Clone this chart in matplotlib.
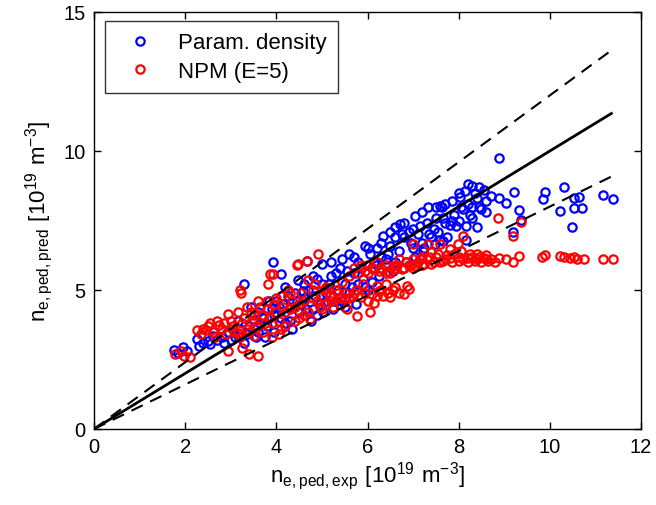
import numpy as np
import matplotlib
matplotlib.use('Agg')
import matplotlib.pyplot as plt

plt.rcParams['font.family'] = ['Liberation Sans', 'DejaVu Sans']
plt.rcParams['mathtext.fontset'] = 'custom'
plt.rcParams['mathtext.rm'] = 'Liberation Sans'

# Param. density (blue)
param_x = [1.76, 1.95, 1.85, 2.05, 2.25, 2.4, 2.55, 2.7, 2.85, 2.6, 2.95, 3.1, 3.2, 3.35,
           3.3, 3.5, 3.6, 3.7, 3.8, 3.9, 3.92, 4.1, 3.95, 4.0, 4.1, 4.2, 4.3, 4.4, 4.47,
           4.5, 4.6, 4.67, 4.7, 4.8, 4.9, 5.0, 5.03, 5.1, 5.2, 5.3, 5.4, 5.5, 5.6, 5.6,
           5.7, 5.8, 5.9, 5.95, 6.0, 6.05, 6.1, 6.2, 6.25, 6.35, 6.4, 6.5, 6.55, 6.6,
           6.7, 6.71, 6.8, 6.85, 6.9, 7.0, 7.04, 7.1, 7.2, 7.3, 7.33, 7.4, 7.5, 7.55,
           7.59, 7.63, 7.7, 7.8, 7.85, 7.9, 8.0, 8.03, 8.1, 8.14, 8.2, 8.29, 8.3, 8.4,
           8.4, 8.5, 8.6, 8.72, 8.89, 8.89, 9.03, 9.2, 9.21, 9.32, 9.36, 9.84, 9.9,
           10.22, 10.31, 10.48, 10.52, 10.54, 10.63, 10.71, 11.17, 11.39,
           3.4, 3.6, 3.75, 4.05, 4.25, 4.35, 4.55, 4.75, 4.85, 4.95, 5.15, 5.25, 5.35,
           5.45, 5.55, 5.65, 5.75, 5.85, 6.15, 6.3, 6.45, 6.6, 6.75, 6.95, 7.15, 7.25,
           7.45, 7.65, 7.75, 7.95, 8.05, 8.25, 8.35, 8.45, 8.55, 8.15, 7.6, 7.05, 6.2,
           5.95, 4.59, 2.3, 2.5, 2.8, 7.22, 7.48, 7.66,
           3.0, 3.15, 3.3, 3.45, 3.55, 3.65, 3.85, 3.95, 4.15, 4.2, 4.3, 4.45, 4.6,
           4.65, 4.8, 4.9, 5.0, 5.1, 5.2, 5.3, 5.45, 5.5, 5.7, 5.8, 6.0, 6.1, 6.3,
           6.5, 6.6, 6.8, 7.0, 7.2, 7.35, 7.5, 7.7, 7.85, 8.0, 8.2, 8.3, 8.45, 8.6, 8.15]
param_y = [2.85, 2.94, 2.75, 2.8, 3.24, 3.1, 3.05, 3.2, 3.1, 3.35, 3.5, 3.3, 3.6, 3.4,
           5.2, 3.9, 3.5, 4.0, 3.7, 4.3, 6.02, 5.58, 3.5, 4.6, 4.0, 3.8, 4.4, 4.9, 5.35,
           4.2, 4.7, 6.05, 5.0, 4.3, 5.4, 5.94, 4.2, 4.9, 5.5, 4.6, 5.8, 5.2, 6.29, 4.9,
           5.6, 6.0, 5.4, 6.6, 5.0, 6.3, 5.8, 6.5, 5.5, 6.95, 6.1, 6.6, 5.7, 7.25,
           6.4, 7.37, 6.9, 6.0, 7.1, 6.5, 7.67, 7.0, 6.7, 7.4, 7.97, 6.9, 7.6, 7.1,
           8.03, 7.97, 7.4, 7.34, 8.2, 7.7, 7.5, 8.33, 7.9, 8.57, 8.1, 8.75, 7.6, 7.25,
           8.3, 7.9, 8.2, 8.39, 8.31, 9.74, 8.12, 7.07, 8.54, 7.88, 7.52, 8.27, 8.51,
           7.85, 8.69, 7.25, 7.95, 8.31, 8.36, 7.95, 8.42, 8.27,
           3.7, 4.2, 3.3, 4.4, 4.8, 3.6, 4.5, 3.9, 4.8, 4.5, 5.2, 4.3, 5.0,
           4.6, 5.7, 5.1, 4.5, 5.8, 6.0, 6.7, 6.3, 6.9, 7.0, 6.7, 7.3, 6.5,
           7.2, 7.6, 6.9, 7.3, 8.0, 7.7, 8.5, 8.0, 8.6, 7.3, 6.8, 6.2, 5.9,
           5.1, 4.97, 3.0, 3.15, 3.3, 6.41, 6.65, 6.77,
           3.2, 3.9, 3.1, 4.4, 3.3, 3.8, 4.6, 4.1, 4.5, 5.1, 3.9, 4.6, 5.2,
           4.3, 5.5, 4.1, 5.2, 4.6, 6.0, 5.6, 6.1, 4.4, 6.2, 5.2, 6.5, 5.3, 6.2,
           7.1, 6.0, 7.4, 7.2, 7.8, 7.0, 8.0, 8.1, 7.5, 8.5, 8.8, 8.0, 8.7, 7.8, 6.8]

# NPM (E=5) (red)
npm_x = [1.78, 1.97, 1.9, 2.1, 2.25, 2.4, 2.5, 2.6, 2.7, 2.8, 2.9, 2.95, 2.95, 3.05,
         3.1, 3.2, 3.23, 3.25, 3.3, 3.35, 3.4, 3.45, 3.5, 3.55, 3.6, 3.65, 3.7, 3.75,
         3.8, 3.82, 3.85, 3.9, 3.92, 3.95, 4.0, 4.05, 4.1, 4.15, 4.2, 4.25, 4.3, 4.35,
         4.4, 4.45, 4.5, 4.55, 4.6, 4.67, 4.7, 4.74, 4.8, 4.85, 4.92, 4.95, 5.0, 5.05,
         5.1, 5.18, 5.25, 5.3, 5.4, 5.45, 5.5, 5.55, 5.6, 5.7, 5.76, 5.8, 5.9, 5.95,
         6.0, 6.06, 6.1, 6.2, 6.25, 6.3, 6.4, 6.45, 6.5, 6.6, 6.65, 6.7, 6.8, 6.86,
         6.9, 7.0, 7.0, 7.1, 7.2, 7.33, 7.3, 7.4, 7.5, 7.6, 7.7, 7.8, 7.85, 7.98, 8.0,
         8.1, 8.1, 8.2, 8.3, 8.4, 8.5, 8.6, 8.7, 8.87, 8.89, 9.04, 9.2, 9.2, 9.32,
         9.37, 9.82, 9.9, 10.22, 10.3, 10.45, 10.52, 10.6, 10.74, 11.17, 11.39,
         6.0, 6.15, 6.3, 6.45, 6.55, 6.75, 6.85, 6.95, 7.05, 7.15, 7.25, 7.35, 7.45,
         7.55, 7.65, 7.75, 7.9, 8.05, 8.25, 8.35, 8.45, 8.55, 8.65, 8.8,
         5.25, 5.35, 5.5, 5.65, 5.75, 5.85, 5.95, 6.1, 6.25, 6.35, 6.55, 6.7, 6.9,
         6.2, 6.4, 4.48, 3.86, 2.45, 2.75, 3.15, 3.5,
         2.35, 2.55, 2.65, 2.85, 3.0, 3.15, 3.2, 3.35, 3.4, 3.5, 3.6, 3.7, 3.8,
         3.9, 4.0, 4.1, 4.2, 4.3, 4.4, 4.5, 4.6, 4.7, 4.8, 4.9, 5.0, 5.1, 5.2,
         5.4, 5.6, 5.7, 5.85, 6.0, 6.2, 6.4, 6.6, 6.8, 7.0, 7.2, 7.4, 7.6, 7.8,
         8.0, 8.2, 8.4, 8.6, 3.25, 4.05, 6.15, 6.5]
npm_y = [2.7, 2.64, 2.8, 2.6, 3.57, 3.6, 3.7, 3.5, 3.9, 3.6, 3.4, 4.14, 2.82, 3.7,
         3.5, 5.01, 4.88, 3.8, 4.0, 3.6, 2.7, 4.2, 3.9, 3.7, 2.64, 4.4, 4.1, 3.8,
         4.6, 5.22, 4.0, 3.3, 5.58, 4.5, 4.2, 3.9, 4.8, 4.4, 3.7, 5.0, 4.3, 4.6,
         3.9, 5.9, 4.5, 4.9, 4.1, 6.05, 5.35, 3.96, 4.7, 5.2, 6.29, 4.4, 4.8, 5.0,
         4.5, 4.8, 4.4, 5.0, 4.7, 5.3, 4.9, 4.3, 5.5, 4.9, 4.08, 5.6, 5.2, 5.7,
         4.6, 4.2, 5.8, 4.8, 5.7, 5.0, 5.9, 4.9, 5.6, 5.1, 5.9, 6.1, 4.85, 5.15,
         5.9, 6.65, 5.8, 6.0, 5.9, 6.65, 6.1, 5.95, 6.2, 6.65, 6.1, 6.47, 6.0, 6.65, 6.2,
         6.95, 6.1, 6.0, 6.2, 6.1, 6.0, 6.25, 6.1, 7.59, 6.15, 6.12, 6.0, 6.93, 6.24,
         7.43, 6.19, 6.25, 6.24, 6.17, 6.15, 6.2, 6.1, 6.12, 6.12, 6.12,
         5.6, 5.75, 5.8, 5.7, 5.85, 5.75, 6.0, 5.9, 5.85, 6.1, 5.95, 6.2, 6.0,
         6.3, 6.05, 6.25, 6.3, 6.4, 6.3, 6.05, 6.2, 6.15, 6.05, 6.0,
         4.75, 4.9, 4.7, 4.8, 5.0, 4.75, 4.9, 4.85, 4.95, 4.8, 5.0, 4.9, 5.05,
         5.15, 5.2, 5.94, 5.58, 3.55, 3.75, 3.45, 3.35,
         3.4, 3.8, 3.3, 3.8, 3.9, 4.2, 3.3, 4.4, 3.5, 4.1, 4.6, 3.5, 4.3,
         3.8, 4.7, 3.6, 4.2, 4.9, 4.4, 4.0, 4.6, 4.2, 5.0, 4.6, 4.3, 5.1, 4.6,
         4.5, 4.7, 5.8, 5.9, 5.9, 6.0, 5.6, 5.75, 5.8, 6.1, 6.2, 6.35, 6.0, 6.15,
         6.05, 6.15, 6.3, 6.1, 2.9, 3.4, 4.55, 4.75]

x_max = 11.35
fit_ratios = [1.0, 1.2, 0.8]

fig = plt.figure(figsize=(6.56, 5.06), dpi=100)
ax = fig.add_axes([94/656, 76/506, 547/656, 417/506])

ax.plot(param_x, param_y, 'o', mfc='none', mec='#0000ff', ms=6, mew=1.6,
        label='Param. density')
ax.plot(npm_x, npm_y, 'o', mfc='none', mec='#ff0000', ms=6, mew=1.6,
        label='NPM (E=5)')

xl = np.array([0, x_max])
ax.plot(xl, fit_ratios[0]*xl, '-', color='k', lw=2)
ax.plot(xl, fit_ratios[1]*xl, '--', color='k', lw=1.5, dashes=(6, 4))
ax.plot(xl, fit_ratios[2]*xl, '--', color='k', lw=1.5, dashes=(6, 4))

ax.set_xlim(0, 12)
ax.set_ylim(0, 15)
ax.set_xticks([0, 2, 4, 6, 8, 10, 12])
ax.set_yticks([0, 5, 10, 15])
ax.tick_params(direction='in', top=True, right=True, length=5, width=1,
               labelsize=14.5, pad=6)
for s in ax.spines.values():
    s.set_linewidth(1)

ax.set_xlabel(r'$\mathregular{n_{e,ped,exp}\ [10^{19}\ m^{-3}]}$', fontsize=16, labelpad=2)
ax.set_ylabel(r'$\mathregular{n_{e,ped,pred}\ [10^{19}\ m^{-3}]}$', fontsize=16, labelpad=6)

leg = ax.legend(loc='upper left', bbox_to_anchor=(0.02, 0.978), borderaxespad=0,
                fancybox=False, edgecolor='k', fontsize=16, handlelength=2.2,
                handletextpad=0.6, labelspacing=0.35, borderpad=0.5)
leg.get_frame().set_linewidth(1)

plt.savefig('out.png', dpi=100)
